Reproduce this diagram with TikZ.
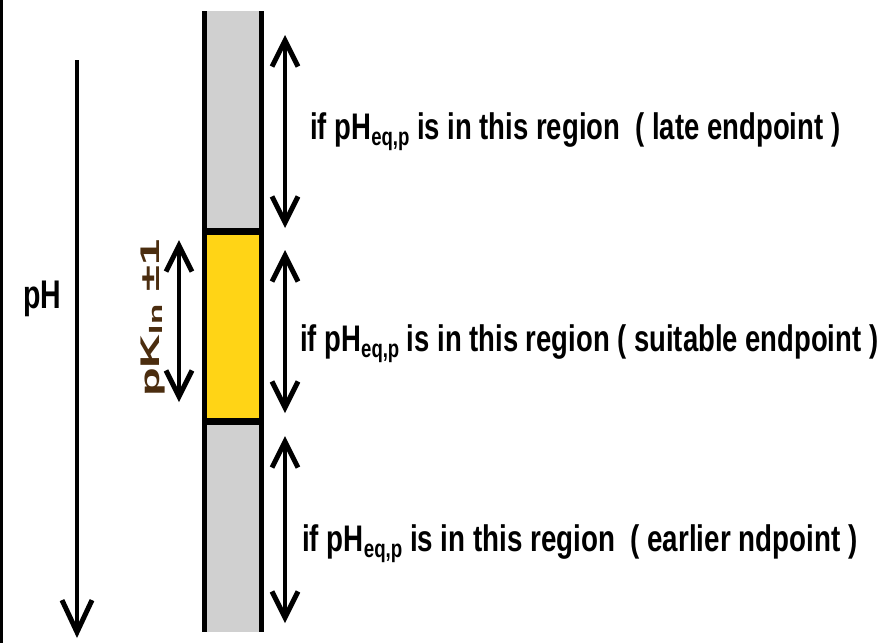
\documentclass[tikz,border=0pt]{standalone}
\usepackage{fontspec}
\setmainfont{Liberation Sans}
\usetikzlibrary{arrows.meta}
\definecolor{colgray}{RGB}{208,208,208}
\definecolor{colyellow}{RGB}{255,212,22}
\definecolor{pkbrown}{RGB}{75,45,15}
\newcommand{\sqz}[2]{\resizebox{#1}{\height}{#2}}
\newcommand{\eqsub}{{\fontsize{25}{25}\selectfont\raisebox{-6pt}{eq,p}}}
\newcommand{\bigtxt}{\fontsize{37}{40}\selectfont\bfseries}
\begin{document}
\begin{tikzpicture}[x=1pt,y=-1pt,
  dbl/.style={line width=4pt,
    {Straight Barb[length=26pt,width=26pt,line width=5pt]}-{Straight Barb[length=26pt,width=26pt,line width=5pt]}},
  single/.style={line width=4pt,
    -{Straight Barb[length=32pt,width=30pt,line width=5pt]}},
  lbl/.style={anchor=base west, inner sep=0pt, text=black}]
\useasboundingbox (0,0) rectangle (886,643);
\fill[white] (0,0) rectangle (886,643);
% left border
\draw[line width=3pt] (1.5,0) -- (1.5,643);
% column
\fill[colgray] (204,11) rectangle (261,632);
\fill[colyellow] (204,231) rectangle (261,421);
\draw[line width=5pt] (204,11) -- (204,632);
\draw[line width=5pt] (261,11) -- (261,632);
\draw[line width=7pt] (204,231) -- (261,231);
\draw[line width=7pt] (204,421) -- (261,421);
% coordinates
\coordinate (phtop) at (77,60);
\coordinate (phbot) at (77,638);
\coordinate (t1) at (285,35);
\coordinate (b1) at (285,228);
\coordinate (t2) at (285,250);
\coordinate (b2) at (285,413);
\coordinate (t3) at (285,436);
\coordinate (b3) at (285,623);
\coordinate (pkt) at (179,240);
\coordinate (pkb) at (179,402);
% arrows
\draw[single] (phtop) -- (phbot);
\draw[dbl] (t1) -- (b1);
\draw[dbl] (t2) -- (b2);
\draw[dbl] (t3) -- (b3);
\draw[dbl] (pkt) -- (pkb);
% labels
\node[lbl] (ph) at (23,308) {\sqz{38pt}{\fontsize{40}{40}\selectfont\bfseries pH}};
\node[lbl, rotate=90, text=pkbrown] (pk) at (159,397)
  {\sqz{157pt}{\fontsize{27}{27}\selectfont\bfseries pK{\fontsize{19}{19}\selectfont\raisebox{-3pt}{In}} ±1}};
\node[lbl] (late) at (310,139)
  {\sqz{530pt}{\bigtxt if pH\eqsub{} is in this region\ \ ( late endpoint )}};
\node[lbl] (suit) at (300,351)
  {\sqz{578pt}{\bigtxt if pH\eqsub{} is in this region ( suitable endpoint )}};
\node[lbl] (early) at (302,551)
  {\sqz{555pt}{\bigtxt if pH\eqsub{} is in this region\ \ ( earlier ndpoint )}};
\end{tikzpicture}
\end{document}
